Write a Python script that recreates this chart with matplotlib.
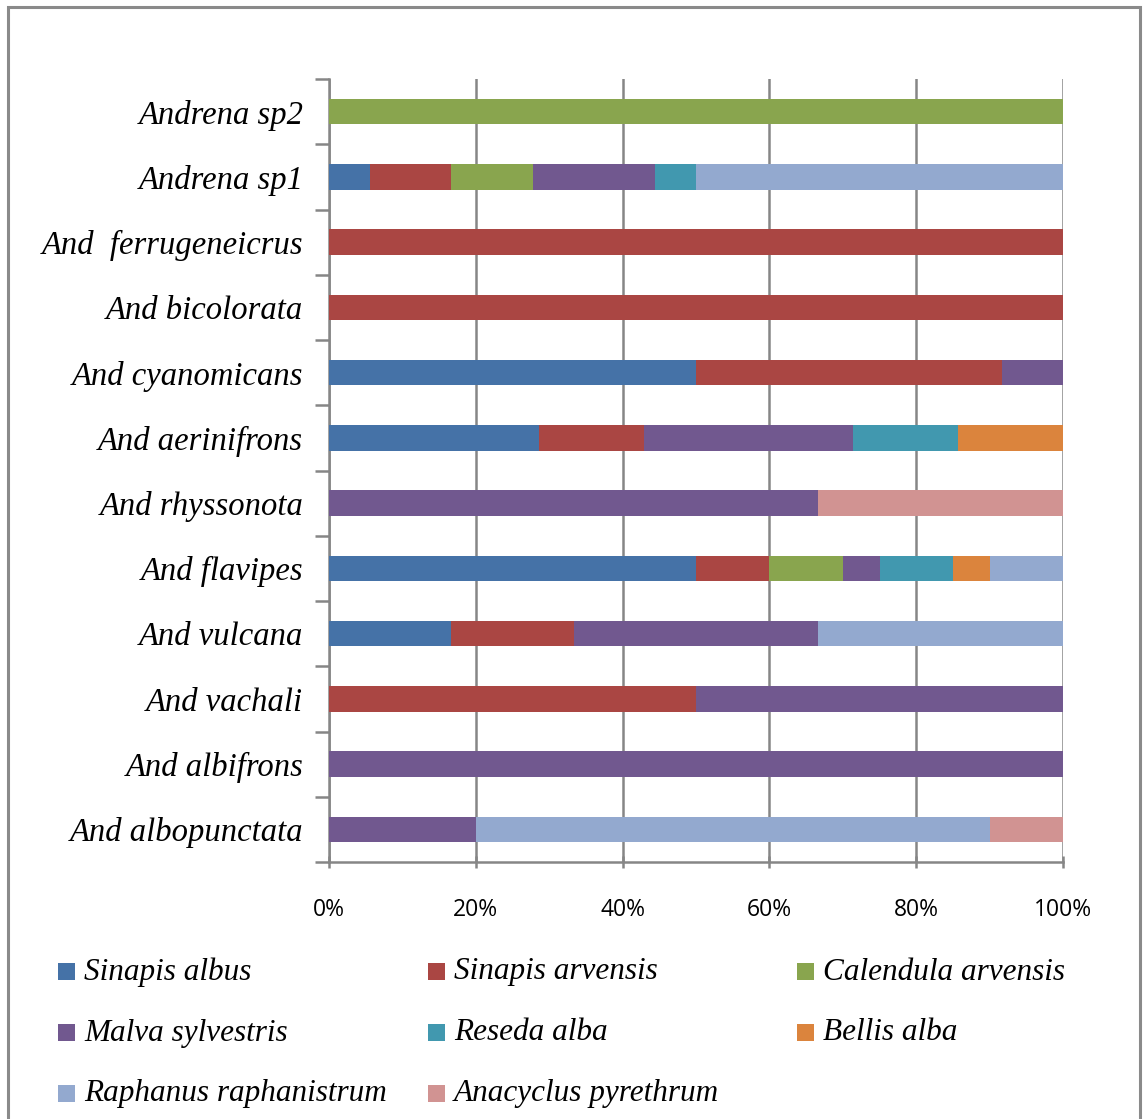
import matplotlib
matplotlib.use("Agg")
import matplotlib.pyplot as plt
from matplotlib.patches import Rectangle
import numpy as np

categories = ["And albopunctata", "And albifrons", "And vachali", "And vulcana",
              "And flavipes", "And rhyssonota", "And aerinifrons", "And cyanomicans",
              "And bicolorata", "And  ferrugeneicrus", "Andrena sp1", "Andrena sp2"]

series_names = ["Sinapis albus", "Sinapis arvensis", "Calendula arvensis",
                "Malva sylvestris", "Reseda alba", "Bellis alba",
                "Raphanus raphanistrum", "Anacyclus pyrethrum"]

# percentages per category (same order as categories)
sinapis_albus      = [0, 0, 0, 16.67, 50, 0, 28.57, 50, 0, 0, 5.56, 0]
sinapis_arvensis   = [0, 0, 50, 16.67, 10, 0, 14.29, 41.67, 100, 100, 11.11, 0]
calendula_arvensis = [0, 0, 0, 0, 10, 0, 0, 0, 0, 0, 11.11, 100]
malva_sylvestris   = [20, 100, 50, 33.33, 5, 66.67, 28.57, 8.33, 0, 0, 16.67, 0]
reseda_alba        = [0, 0, 0, 0, 10, 0, 14.29, 0, 0, 0, 5.56, 0]
bellis_alba        = [0, 0, 0, 0, 5, 0, 14.29, 0, 0, 0, 0, 0]
raphanus           = [70, 0, 0, 33.33, 10, 0, 0, 0, 0, 0, 50, 0]
anacyclus          = [10, 0, 0, 0, 0, 33.33, 0, 0, 0, 0, 0, 0]

xtick_labels = ["0%", "20%", "40%", "60%", "80%", "100%"]

colors = ["#4572A7", "#AA4643", "#89A54E", "#71588F",
          "#4198AF", "#DB843D", "#93A9CF", "#D19392"]

data = [sinapis_albus, sinapis_arvensis, calendula_arvensis, malva_sylvestris,
        reseda_alba, bellis_alba, raphanus, anacyclus]

W, H = 1143, 1119
fig = plt.figure(figsize=(W / 100, H / 100), dpi=100)
ax = fig.add_axes([329 / W, 1 - 862 / H, (1063 - 329) / W, (862 - 79) / H])

y = np.arange(len(categories))
left = np.zeros(len(categories))
for name, vals, c in zip(series_names, data, colors):
    vals = np.array(vals, dtype=float)
    ax.barh(y, vals, left=left, height=0.39, color=c, label=name, zorder=3)
    left += vals

ax.set_xlim(0, 100)
ax.set_ylim(-0.5, len(categories) - 0.5)
ax.set_xticks([0, 20, 40, 60, 80, 100])
ax.set_xticklabels(xtick_labels, fontsize=16.5, family="Open Sans")
ax.set_yticks(y)
ax.set_yticklabels(categories, fontsize=23.5, family="Liberation Serif", style="italic")
ax.set_yticks(np.arange(-0.5, len(categories), 1), minor=True)
ax.tick_params(axis="y", which="major", length=0, pad=18.5)
ax.tick_params(axis="y", which="minor", length=10, width=1.8, color="#868686")
ax.tick_params(axis="x", which="major", length=8, width=1.8, color="#868686",
               direction="inout", pad=22)

ax.grid(axis="x", color="#868686", linewidth=1.8, zorder=0)
for s in ["top", "right"]:
    ax.spines[s].set_visible(False)
ax.spines["left"].set_color("#868686")
ax.spines["left"].set_linewidth(1.8)
ax.spines["bottom"].set_color("#868686")
ax.spines["bottom"].set_linewidth(1.8)

# outer frame
fig.patches.append(Rectangle((8 / W, -0.01), (1140 - 8) / W, 1 - 7 / H + 0.01,
                             transform=fig.transFigure, fill=False,
                             edgecolor="#8a8a8a", linewidth=2.2))

# legend (row-wise, 3 columns)
col_x = [58, 428, 797]
row_y = [972, 1033, 1094]
for i, (name, c) in enumerate(zip(series_names, colors)):
    r, k = divmod(i, 3)
    x0, y0 = col_x[k], row_y[r]
    fig.patches.append(Rectangle((x0 / W, 1 - (y0 + 8) / H), 17 / W, 17 / H,
                                 transform=fig.transFigure, facecolor=c,
                                 edgecolor="none"))
    fig.text((x0 + 26) / W, 1 - y0 / H, name, fontsize=22.5,
             family="Liberation Serif", style="italic", va="center", ha="left")

fig.savefig("out.png", dpi=100)
